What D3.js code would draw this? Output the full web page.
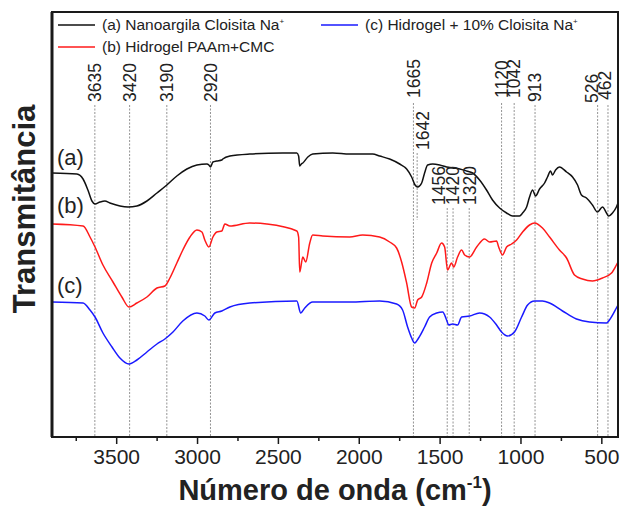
<!DOCTYPE html>
<html>
<head>
<meta charset="utf-8">
<script src="https://cdn.jsdelivr.net/npm/d3@7/dist/d3.min.js"></script>
<style>
  body { margin: 0; background: #fff; }
  svg text { font-family: "Liberation Sans", Arial, sans-serif; fill: #222; }
</style>
</head>
<body>
<div id="chart"></div>
<script>
// FTIR spectra, [wavenumber cm-1, transmittance (a.u., curves offset)]
var seriesA = [
  [3900,264],[3746,263],[3708,258],[3678,247],[3653,236],[3634,233],[3603,235],[3573,236],
  [3542,234],[3480,231],[3430,230],[3375,231],[3313,236],[3251,244],[3190,252],[3128,261],
  [3066,268],[3004,272],[2942,273],[2930,272],[2920,270],[2905,275],[2881,276],[2850,277],
  [2844,278],[2800,281],[2677,283],[2473,284],[2386,284],[2375,281],[2368,271],[2358,273],
  [2349,274],[2318,280],[2288,283],[2164,284],[2059,283],[1917,283],[1874,281],[1812,278],
  [1750,273],[1707,268],[1676,260],[1655,252],[1639,250],[1614,254],[1596,264],[1577,272],
  [1546,273],[1503,272],[1460,270],[1423,269],[1379,268],[1336,266],[1299,264],[1256,257],
  [1213,247],[1176,237],[1132,229],[1089,224],[1052,221],[1009,221],[990,224],[965,230],
  [947,240],[928,247],[910,241],[885,248],[854,254],[836,260],[817,266],[805,262],[786,267],
  [762,270],[718,265],[681,260],[650,252],[626,242],[595,239],[558,232],[527,225],[496,230],
  [471,224],[459,221],[434,224],[410,230],[400,234]
];
var seriesB = [
  [3900,213],[3708,211],[3665,200],[3634,190],[3585,172],[3523,155],[3468,140],[3424,130],
  [3375,134],[3313,140],[3251,149],[3202,151],[3171,159],[3128,174],[3091,187],[3047,200],
  [3004,207],[2973,205],[2955,197],[2930,190],[2905,200],[2881,205],[2850,206],[2831,213],
  [2800,211],[2677,214],[2572,213],[2386,206],[2375,200],[2368,165],[2349,180],[2331,175],
  [2306,194],[2288,202],[2226,201],[2059,200],[1979,202],[1874,200],[1812,195],[1769,189],
  [1738,175],[1707,154],[1676,130],[1657,129],[1639,137],[1614,140],[1583,154],[1552,174],
  [1521,184],[1491,194],[1472,190],[1454,167],[1429,174],[1416,170],[1392,180],[1367,187],
  [1348,182],[1318,180],[1274,190],[1225,198],[1194,195],[1151,196],[1138,190],[1114,182],
  [1089,190],[1058,193],[1027,197],[990,205],[947,212],[916,214],[867,209],[823,200],
  [762,187],[718,179],[669,162],[620,158],[558,156],[496,159],[440,164],[410,172],[400,175]
];
var seriesC = [
  [3900,135],[3708,134],[3665,127],[3634,120],[3585,104],[3529,90],[3480,79],[3424,73],
  [3375,77],[3313,85],[3251,93],[3202,98],[3152,105],[3091,116],[3004,124],[2955,121],
  [2930,117],[2893,124],[2850,126],[2800,130],[2677,134],[2386,136],[2362,124],[2337,129],
  [2288,135],[2059,135],[1874,136],[1769,133],[1732,127],[1701,110],[1676,99],[1657,94],
  [1633,99],[1596,110],[1565,120],[1521,124],[1484,125],[1460,117],[1447,112],[1423,113],
  [1392,112],[1367,120],[1318,121],[1256,124],[1194,120],[1151,112],[1120,105],[1083,101],
  [1040,105],[996,120],[959,132],[916,136],[867,136],[823,134],[743,126],[657,118],
  [576,115],[471,114],[453,117],[410,129],[400,132]
];

var seriesNames = [
  "(a) Nanoargila Cloisita Na",
  "(b) Hidrogel PAAm+CMC",
  "(c) Hidrogel + 10% Cloisita Na"
];
var curveTags = ["(a)", "(b)", "(c)"];
var peaks = [3635, 3420, 3190, 2920, 1665, 1642, 1456, 1420, 1320, 1120, 1042, 913, 526, 462];
var majorTicks = [3500, 3000, 2500, 2000, 1500, 1000, 500];
var minorTicks = [3750, 3250, 2750, 2250, 1750, 1250, 750];

var width = 622, height = 506;
// note: "top" is taken by window.top, so plot edges get their own names
var plotL = 52, plotR = 618, plotT = 12, plotB = 437;

var svg = d3.select("#chart").append("svg")
  .attr("width", width)
  .attr("height", height);

var x = d3.scaleLinear().domain([3900, 400]).range([plotL, plotR]);
var y = d3.scaleLinear().domain([0, 425]).range([plotB, plotT]);

// where each peak label sits (text bottom, line start/end, sideways nudge)
function peakLayout(p) {
  var l = { textY: 102, lineTop: 105, lineEnd: plotB, dx: 0 };
  if (p == 1665 || p == 1120 || p == 1042) { l.textY = 98; l.lineTop = 103; }
  if (p == 1642) { l.textY = 150; l.lineTop = 153; l.lineEnd = 220; l.dx = 6; }
  if (p == 1456 || p == 1420 || p == 1320) { l.textY = 205; l.lineTop = 208; }
  if (p == 1456) l.dx = -9;
  if (p == 526) { l.dx = -6; l.textY = 103; }
  if (p == 462) { l.dx = -3; l.textY = 100; }
  return l;
}

// dashed guide lines
svg.append("g").selectAll("line")
  .data(peaks)
  .join("line")
  .attr("x1", d => x(d)).attr("x2", d => x(d))
  .attr("y1", d => peakLayout(d).lineTop)
  .attr("y2", d => peakLayout(d).lineEnd)
  .style("stroke", "#777")
  .style("stroke-width", 0.8)
  .style("stroke-dasharray", "2,1.5");

var line = d3.line()
  .x(d => x(d[0]))
  .y(d => y(d[1]))
  .curve(d3.curveMonotoneX);

var colors = ["#111111", "#ff1a1a", "#1a1aff"];
[seriesA, seriesB, seriesC].forEach(function (s, i) {
  svg.append("path")
    .datum(s)
    .attr("d", line)
    .style("fill", "none")
    .style("stroke", colors[i])
    .style("stroke-width", 1.5)
    .style("stroke-linejoin", "round");
});

// peak labels, rotated
svg.append("g").selectAll("text")
  .data(peaks)
  .join("text")
  .attr("transform", d => "translate(" + (x(d) + peakLayout(d).dx) + "," + peakLayout(d).textY + ") rotate(-90)")
  .attr("dy", "0.36em")
  .style("font-size", "17.5px")
  .text(d => d);

// (a) (b) (c) tags
var tagY = [165, 213, 293];
svg.append("g").selectAll("text")
  .data(curveTags)
  .join("text")
  .attr("x", 57)
  .attr("y", (d, i) => tagY[i])
  .style("font-size", "22px")
  .text(d => d);

// frame
svg.append("rect")
  .attr("x", plotL).attr("y", plotT)
  .attr("width", plotR - plotL).attr("height", plotB - plotT)
  .style("fill", "none")
  .style("stroke", "#1a1a1a")
  .style("stroke-width", 2);
svg.append("line")
  .attr("x1", plotL).attr("x2", plotL)
  .attr("y1", plotT).attr("y2", plotB)
  .style("stroke", "#1a1a1a")
  .style("stroke-width", 3);

// x axis ticks
var gx = svg.append("g").attr("transform", "translate(0," + plotB + ")");
gx.selectAll("line.major")
  .data(majorTicks)
  .join("line")
  .attr("class", "major")
  .attr("x1", d => x(d)).attr("x2", d => x(d))
  .attr("y1", 0).attr("y2", 7)
  .style("stroke", "#1a1a1a").style("stroke-width", 1.5);
gx.selectAll("line.minor")
  .data(minorTicks)
  .join("line")
  .attr("class", "minor")
  .attr("x1", d => x(d)).attr("x2", d => x(d))
  .attr("y1", 0).attr("y2", 4)
  .style("stroke", "#1a1a1a").style("stroke-width", 1.5);
gx.selectAll("text")
  .data(majorTicks)
  .join("text")
  .attr("x", d => x(d))
  .attr("y", 27)
  .attr("text-anchor", "middle")
  .style("font-size", "21px")
  .text(d => d);

// axis titles
var xt = svg.append("text")
  .attr("x", (plotL + plotR) / 2)
  .attr("y", 500)
  .attr("text-anchor", "middle")
  .style("font-size", "29px")
  .style("font-weight", "bold")
  .text("Número de onda (cm");
xt.append("tspan").attr("dy", -12).style("font-size", "17px").text("-1");
xt.append("tspan").attr("dy", 12).text(")");

svg.append("text")
  .attr("transform", "translate(35," + 209 + ") rotate(-90)")
  .attr("text-anchor", "middle")
  .style("font-size", "31px")
  .style("font-weight", "bold")
  .text("Transmitância");

// legend
var legendPos = [[58, 25], [58, 47], [321, 25]];
var legend = svg.append("g").selectAll("g")
  .data(seriesNames)
  .join("g")
  .attr("transform", (d, i) => "translate(" + legendPos[i][0] + "," + legendPos[i][1] + ")");
legend.append("line")
  .attr("x1", 0).attr("x2", 37)
  .style("stroke", (d, i) => colors[i])
  .style("stroke-width", 1.5);
var lt = legend.append("text")
  .attr("x", 44)
  .attr("dy", "0.35em")
  .style("font-size", "15.5px")
  .text(d => d);
lt.filter((d, i) => i != 1)
  .append("tspan")
  .attr("dy", -6)
  .style("font-size", "8px")
  .text("+");
</script>
</body>
</html>
